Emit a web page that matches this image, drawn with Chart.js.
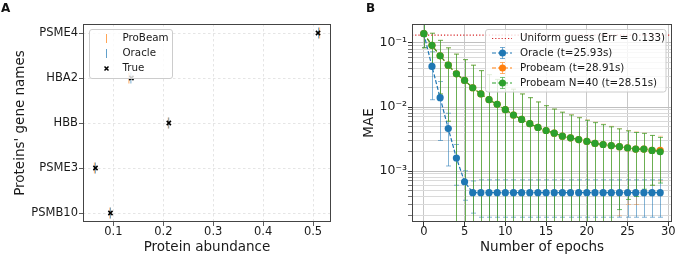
<!DOCTYPE html>
<html>
<head>
<meta charset="utf-8">
<script src="https://cdn.jsdelivr.net/npm/chart.js@4/dist/chart.umd.min.js"></script>
<style>
  body { margin: 0; background: #fff; }
  .wrap { position: relative; width: 680px; height: 257px; font-family: "DejaVu Sans", sans-serif; }
  canvas { position: absolute; top: 0; }
  #chartA { left: 0; }
  #chartB { left: 340px; }
  .panel-label { position: absolute; top: 2px; font: bold 12px/12px "DejaVu Sans", sans-serif; color: #111; }
</style>
</head>
<body>
<div class="wrap">
  <canvas id="chartA" width="340" height="257"></canvas>
  <canvas id="chartB" width="340" height="257"></canvas>
  <div class="panel-label" style="left:1px">A</div>
  <div class="panel-label" style="left:366px">B</div>
</div>
<script>
// ---------- panel A : abundance per protein ----------
const protein_names = ["PSMB10", "PSME3", "HBB", "HBA2", "PSME4"];
const true_abundance = [0.094, 0.064, 0.211, 0.136, 0.510];
const probeam_abundance = [0.093, 0.062, 0.210, 0.131, 0.513];
const oracle_abundance = [0.094, 0.064, 0.211, 0.135, 0.511];
const abundance_ticks = [0.1, 0.2, 0.3, 0.4, 0.5];

// ---------- panel B : MAE per epoch ----------
const epochs = [0, 1, 2, 3, 4, 5, 6, 7, 8, 9, 10, 11, 12, 13, 14, 15, 16, 17, 18, 19, 20, 21, 22, 23, 24, 25, 26, 27, 28, 29];
const epoch_ticks = [0, 5, 10, 15, 20, 25, 30];
const uniform_err = 0.133;

const oracle_mae = [0.14, 0.043, 0.014, 0.0046, 0.0016, 0.00068, 0.00046, 0.00046, 0.00046, 0.00046,
  0.00046, 0.00046, 0.00046, 0.00046, 0.00046, 0.00046, 0.00046, 0.00046, 0.00046, 0.00046,
  0.00046, 0.00046, 0.00046, 0.00046, 0.00046, 0.00046, 0.00046, 0.00046, 0.00046, 0.00046];
const oracle_std = [0.055, 0.030, 0.011, 0.0034, 0.0010, 0.00033, 0.00024, 0.00027, 0.00027, 0.00027,
  0.00027, 0.00027, 0.00027, 0.00027, 0.00027, 0.00027, 0.00027, 0.00027, 0.00027, 0.00027,
  0.00027, 0.00027, 0.00027, 0.00027, 0.00027, 0.00027, 0.00027, 0.00027, 0.00027, 0.00027];

const probeam_mae = [0.14, 0.092, 0.063, 0.045, 0.033, 0.026, 0.020, 0.016, 0.013, 0.011,
  0.0091, 0.0075, 0.0064, 0.0055, 0.0048, 0.0043, 0.0039, 0.0035, 0.0033, 0.0031,
  0.0029, 0.0027, 0.0026, 0.0025, 0.0024, 0.0023, 0.0022, 0.0022, 0.0021, 0.0021];
const probeam_std = [0.056, 0.050, 0.047, 0.039, 0.034, 0.029, 0.025, 0.021, 0.019, 0.016,
  0.013, 0.0115, 0.0096, 0.0085, 0.0072, 0.0062, 0.0054, 0.0048, 0.0043, 0.0038,
  0.0034, 0.0031, 0.0028, 0.0025, 0.0022, 0.0020, 0.0019, 0.0017, 0.0015, 0.0014];

const probeam40_mae = [0.14, 0.092, 0.063, 0.045, 0.033, 0.026, 0.020, 0.016, 0.013, 0.011,
  0.0091, 0.0075, 0.0064, 0.0055, 0.0048, 0.0043, 0.0039, 0.0035, 0.0033, 0.0031,
  0.0029, 0.0027, 0.0026, 0.0025, 0.0024, 0.0023, 0.0022, 0.0022, 0.0021, 0.0020];
const probeam40_std = [0.056, 0.050, 0.047, 0.039, 0.034, 0.029, 0.025, 0.021, 0.019, 0.016,
  0.013, 0.0115, 0.0096, 0.0085, 0.0072, 0.0062, 0.0054, 0.0048, 0.0042, 0.0037,
  0.0033, 0.0030, 0.0027, 0.0024, 0.00215, 0.00194, 0.0018, 0.00168, 0.0015, 0.00135];

const mae_ticks = [0.0002, 0.0003, 0.0004, 0.0005, 0.0006, 0.0007, 0.0008, 0.0009,
  0.001, 0.002, 0.003, 0.004, 0.005, 0.006, 0.007, 0.008, 0.009,
  0.01, 0.02, 0.03, 0.04, 0.05, 0.06, 0.07, 0.08, 0.09, 0.1];

const BLUE = "#1f77b4", ORANGE = "#ff7f0e", GREEN = "#2ca02c", RED = "#d62728";

Chart.defaults.font.family = "'DejaVu Sans', sans-serif";
Chart.defaults.color = "#1a1a1a";

// frame around the plot area (matplotlib spines)
const framePlugin = {
  id: "frame",
  afterDatasetsDraw(chart) {
    const { ctx, chartArea: a } = chart;
    ctx.save();
    ctx.strokeStyle = "#444";
    ctx.lineWidth = 1;
    ctx.strokeRect(a.left + 0.5, a.top + 0.5, a.width - 1, a.height - 1);
    ctx.restore();
  },
};

function roundBox(ctx, x, y, w, h, r) {
  ctx.beginPath();
  ctx.moveTo(x + r, y);
  ctx.arcTo(x + w, y, x + w, y + h, r);
  ctx.arcTo(x + w, y + h, x, y + h, r);
  ctx.arcTo(x, y + h, x, y, r);
  ctx.arcTo(x, y, x + w, y, r);
  ctx.closePath();
  ctx.fillStyle = "rgba(255,255,255,0.8)";
  ctx.fill();
  ctx.strokeStyle = "#cccccc";
  ctx.lineWidth = 1;
  ctx.stroke();
}

/* ----------------------------------------- */
/*                 panel A                   */
/* ----------------------------------------- */
const legendA = {
  id: "legendA",
  afterDraw(chart) {
    const ctx = chart.ctx;
    ctx.save();
    roundBox(ctx, 89.5, 29.5, 83, 49, 2.5);
    const rows = [
      { text: "ProBeam", y: 38.5, color: "rgba(255,127,14,0.7)" },
      { text: "Oracle", y: 53.5, color: "rgba(31,119,180,0.7)" },
      { text: "True", y: 68.5, color: "#000" },
    ];
    ctx.font = "10.3px 'DejaVu Sans', sans-serif";
    ctx.textBaseline = "middle";
    rows.forEach((r, i) => {
      ctx.strokeStyle = r.color;
      ctx.lineWidth = i < 2 ? 1 : 1.5;
      ctx.beginPath();
      if (i < 2) {
        ctx.moveTo(106.5, r.y - 4.5);
        ctx.lineTo(106.5, r.y + 4.5);
      } else {
        ctx.moveTo(104.5, r.y - 2);
        ctx.lineTo(108.5, r.y + 2);
        ctx.moveTo(108.5, r.y - 2);
        ctx.lineTo(104.5, r.y + 2);
      }
      ctx.stroke();
      ctx.fillStyle = "#1a1a1a";
      ctx.fillText(r.text, 122.5, r.y);
    });
    ctx.restore();
  },
};

const gridA = {
  color: "rgba(0,0,0,0.13)",
  lineWidth: 0.8,
  tickColor: "#333",
  tickLength: 4,
  tickBorderDash: [],
};

new Chart(document.getElementById("chartA"), {
  type: "scatter",
  data: {
    datasets: [
      {
        label: "True",
        data: true_abundance.map((v, i) => ({ x: v, y: i })),
        pointStyle: "crossRot",
        pointRadius: 3,
        pointBorderColor: "#000",
        pointBorderWidth: 1.5,
        order: 0,
      },
      {
        label: "Oracle",
        data: oracle_abundance.map((v, i) => ({ x: v, y: i })),
        pointStyle: "line",
        pointRotation: 90,
        pointRadius: 5.5,
        pointBorderColor: "rgba(31,119,180,0.6)",
        pointBorderWidth: 1,
        order: 1,
      },
      {
        label: "ProBeam",
        data: probeam_abundance.map((v, i) => ({ x: v, y: i })),
        pointStyle: "line",
        pointRotation: 90,
        pointRadius: 5.5,
        pointBorderColor: "rgba(255,127,14,0.55)",
        pointBorderWidth: 1.2,
        order: 2,
      },
    ],
  },
  options: {
    responsive: false,
    animation: false,
    layout: { padding: { left: 0, top: 24, right: 9, bottom: 0 } },
    plugins: { legend: { display: false }, tooltip: { enabled: false } },
    scales: {
      x: {
        type: "linear",
        min: 0.039,
        max: 0.536,
        afterBuildTicks: (s) => { s.ticks = abundance_ticks.map((v) => ({ value: v })); },
        afterFit: (s) => { s.height = 35; },
        grid: gridA,
        border: { display: false, dash: [2.5, 2.5] },
        ticks: { font: { size: 11.5 }, padding: -1, maxRotation: 0, autoSkip: false, callback: (v) => v.toFixed(1) },
        title: { display: true, text: "Protein abundance", font: { size: 13.5 }, padding: { top: 0, bottom: 1 } },
      },
      y: {
        type: "linear",
        min: -0.2,
        max: 4.2,
        afterBuildTicks: (s) => { s.ticks = protein_names.map((n, i) => ({ value: i })); },
        afterFit: (s) => { s.width = 83; },
        grid: gridA,
        border: { display: false, dash: [2.5, 2.5] },
        ticks: { font: { size: 11.5 }, padding: 1, autoSkip: false, callback: (v) => protein_names[v] },
        title: { display: true, text: "Proteins' gene names", font: { size: 13.5 }, padding: { top: 12, bottom: 0 } },
      },
    },
  },
  plugins: [framePlugin, legendA],
});

/* ----------------------------------------- */
/*                 panel B                   */
/* ----------------------------------------- */
const errorBarPlugin = {
  id: "errorBars",
  beforeDatasetsDraw(chart) {
    const { ctx, chartArea: a, scales } = chart;
    ctx.save();
    ctx.beginPath();
    ctx.rect(a.left, a.top, a.width, a.height);
    ctx.clip();
    // draw from the bottom layer (Oracle) up to the top one (N=40)
    [...chart.data.datasets].reverse().forEach((ds) => {
      ctx.strokeStyle = ds.errorColor;
      ctx.lineWidth = 1;
      ds.data.forEach((pt, i) => {
        const x = Math.round(scales.x.getPixelForValue(pt.x)) + 0.5;
        const hi = pt.y + ds.errors[i];
        const lo = pt.y - ds.errors[i];
        const yHi = scales.y.getPixelForValue(hi);
        const yLo = lo > 0 ? scales.y.getPixelForValue(lo) : a.bottom + 10;
        ctx.beginPath();
        ctx.moveTo(x, yHi);
        ctx.lineTo(x, yLo);
        ctx.moveTo(x - 2.5, yHi);
        ctx.lineTo(x + 2.5, yHi);
        if (lo > 0) {
          ctx.moveTo(x - 2.5, yLo);
          ctx.lineTo(x + 2.5, yLo);
        }
        ctx.stroke();
      });
    });
    // uniform guess
    const yu = scales.y.getPixelForValue(uniform_err);
    ctx.strokeStyle = RED;
    ctx.lineWidth = 1.2;
    ctx.setLineDash([1.2, 2]);
    ctx.beginPath();
    ctx.moveTo(a.left, yu);
    ctx.lineTo(a.right, yu);
    ctx.stroke();
    ctx.restore();
  },
};

const legendB = {
  id: "legendB",
  afterDraw(chart) {
    const ctx = chart.ctx;
    ctx.save();
    roundBox(ctx, 145.5, 29.5, 180.5, 62.5, 2.5);
    const rows = [
      { text: "Uniform guess (Err = 0.133)", y: 38.5, color: RED, marker: false },
      { text: "Oracle (t=25.93s)", y: 53, color: BLUE, err: "rgba(31,119,180,0.6)", marker: true },
      { text: "Probeam (t=28.91s)", y: 68, color: ORANGE, err: "rgba(255,127,14,0.6)", marker: true },
      { text: "Probeam N=40 (t=28.51s)", y: 83, color: GREEN, err: "rgba(44,160,44,0.6)", marker: true },
    ];
    ctx.font = "10.3px 'DejaVu Sans', sans-serif";
    ctx.textBaseline = "middle";
    rows.forEach((r) => {
      ctx.strokeStyle = r.color;
      if (r.marker) {
        ctx.lineWidth = 1.2;
        ctx.setLineDash([4, 2]);
        ctx.beginPath();
        ctx.moveTo(152, r.y);
        ctx.lineTo(172, r.y);
        ctx.stroke();
        ctx.setLineDash([]);
        ctx.strokeStyle = r.err;
        ctx.lineWidth = 1;
        ctx.beginPath();
        ctx.moveTo(162.5, r.y - 5.5);
        ctx.lineTo(162.5, r.y + 5.5);
        ctx.moveTo(160, r.y - 5.5);
        ctx.lineTo(165, r.y - 5.5);
        ctx.moveTo(160, r.y + 5.5);
        ctx.lineTo(165, r.y + 5.5);
        ctx.stroke();
        ctx.fillStyle = r.color;
        ctx.beginPath();
        ctx.arc(162.5, r.y, 3.5, 0, Math.PI * 2);
        ctx.fill();
      } else {
        ctx.lineWidth = 1.2;
        ctx.setLineDash([1.2, 2]);
        ctx.beginPath();
        ctx.moveTo(152, r.y);
        ctx.lineTo(172, r.y);
        ctx.stroke();
        ctx.setLineDash([]);
      }
      ctx.fillStyle = "#1a1a1a";
      ctx.fillText(r.text, 180, r.y);
    });
    ctx.restore();
  },
};

const SUP = { "-": "\u207b", "0": "\u2070", "1": "\u00b9", "2": "\u00b2", "3": "\u00b3", "4": "\u2074" };
function isDecade(v) {
  const e = Math.log10(v);
  return Math.abs(e - Math.round(e)) < 1e-9;
}

function seriesB(label, mae, std, color, errColor, order) {
  return {
    label: label,
    data: epochs.map((e, i) => ({ x: e, y: mae[i] })),
    errors: std,
    errorColor: errColor,
    borderColor: color,
    backgroundColor: color,
    borderWidth: 1.2,
    borderDash: [4, 2],
    pointRadius: 3.6,
    pointBorderWidth: 0,
    pointBackgroundColor: color,
    tension: 0,
    order: order,
  };
}

new Chart(document.getElementById("chartB"), {
  type: "line",
  data: {
    datasets: [
      seriesB("Probeam N=40 (t=28.51s)", probeam40_mae, probeam40_std, GREEN, "rgba(44,160,44,0.7)", 0),
      seriesB("Probeam (t=28.91s)", probeam_mae, probeam_std, ORANGE, "rgba(255,127,14,0.35)", 1),
      seriesB("Oracle (t=25.93s)", oracle_mae, oracle_std, BLUE, "rgba(31,119,180,0.55)", 2),
    ],
  },
  options: {
    responsive: false,
    animation: false,
    layout: { padding: { left: 0, top: 24, right: 8, bottom: 0 } },
    plugins: { legend: { display: false }, tooltip: { enabled: false } },
    scales: {
      x: {
        type: "linear",
        min: -1.45,
        max: 30.45,
        afterBuildTicks: (s) => { s.ticks = epoch_ticks.map((v) => ({ value: v })); },
        afterFit: (s) => { s.height = 35; },
        grid: { color: "#c8c8c8", lineWidth: 1, tickColor: "#333", tickLength: 4 },
        border: { display: false },
        ticks: { font: { size: 11.5 }, padding: -1, maxRotation: 0, autoSkip: false, callback: (v) => String(v) },
        title: { display: true, text: "Number of epochs", font: { size: 13.5 }, padding: { top: 0, bottom: 1 } },
      },
      y: {
        type: "logarithmic",
        min: 0.00016,
        max: 0.198,
        afterBuildTicks: (s) => { s.ticks = mae_ticks.map((v) => ({ value: v })); },
        afterFit: (s) => { s.width = 72; },
        grid: {
          color: (c) => (c.tick && isDecade(c.tick.value) ? "#c0c0c0" : "#dadada"),
          lineWidth: 1,
          tickColor: (c) => (c.tick && isDecade(c.tick.value) ? "#333" : "#777"),
          tickLength: 4,
        },
        border: { display: false },
        ticks: {
          font: { size: 12.5 },
          padding: 1,
          autoSkip: false,
          callback: (v) => {
            if (!isDecade(v)) return "";
            const e = String(Math.round(Math.log10(v)));
            return "10" + e.split("").map((ch) => SUP[ch]).join("");
          },
        },
        title: { display: true, text: "MAE", font: { size: 13.5 }, padding: { top: 21, bottom: 0 } },
      },
    },
  },
  plugins: [errorBarPlugin, framePlugin, legendB],
});
</script>
</body>
</html>
